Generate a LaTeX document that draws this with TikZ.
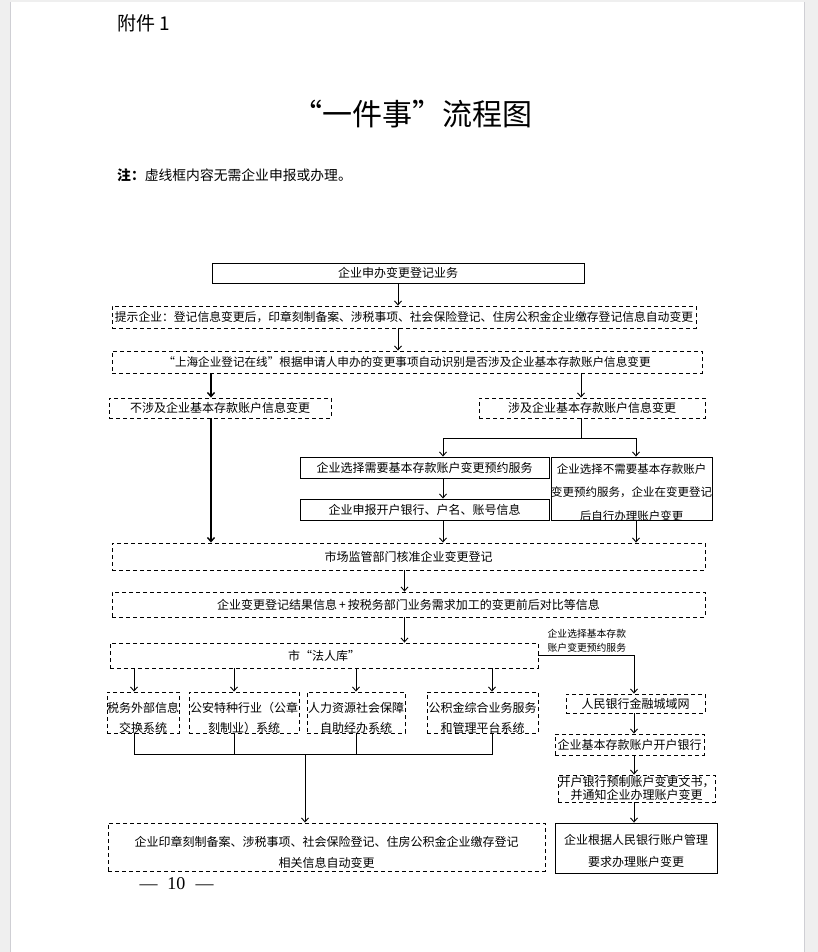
\documentclass[tikz,border=0pt]{standalone}
\usepackage{fontspec}
\setmainfont{Noto Sans CJK SC}
\newfontfamily\pagenumfont{Liberation Serif}
\usepackage{xcolor}
\definecolor{pageedge}{HTML}{EFEFEF}
\definecolor{pageline}{HTML}{CFCFD4}
\usetikzlibrary{arrows.meta, positioning, calc}
\tikzset{
  sbox/.style ={rectangle, draw=black, line width=0.9pt, fill=white, text=black, align=center,
                inner sep=0pt, font=\fontsize{12}{20}\selectfont},
  dbox/.style ={sbox, dash pattern=on 4pt off 3pt},
  farr/.style ={-{Straight Barb[length=4pt, width=7pt]}, line width=0.9pt},
  farrb/.style={farr, line width=1.4pt},
  fline/.style={line width=0.9pt},
  slbl/.style ={font=\fontsize{9.8}{14}\selectfont, align=left, inner sep=0pt},
}

\begin{document}
\begin{tikzpicture}[x=1pt, y=-1pt]
  \useasboundingbox (0,0) rectangle (818,952);
  % page
  \fill[pageedge] (0,0) rectangle (818,952);
  \fill[white] (10,2) rectangle (804,952);
  \draw[pageline, line width=1pt] (804.5,2) -- (804.5,952);
  \draw[pageline, line width=0.6pt] (10.3,2) -- (10.3,952);

  \node[font=\fontsize{19}{19}\selectfont, anchor=west, inner sep=0pt] (annex) at (117,23) {附件 1};
  \node[font=\fontsize{30}{30}\selectfont, inner sep=0pt] (title) at (412,114) {“一件事”流程图};
  \node[font=\fontsize{13.8}{14}\selectfont, anchor=west, inner sep=0pt] (note) at (117,175) {\textbf{注：}虚线框内容无需企业申报或办理。};
  \node[font=\pagenumfont\fontsize{18}{18}\selectfont, inner sep=0pt] (pageno) at (176.5,884) {—\hspace{10pt}10\hspace{10pt}—};

  % main column
  \node[sbox, minimum width=372pt, minimum height=20pt] (apply) at (398,273) {企业申办变更登记业务};
  \node[dbox, minimum width=584pt, minimum height=22pt, font=\fontsize{11.8}{20}\selectfont] (hint) at (404,317)
       {提示企业：登记信息变更后，印章刻制备案、涉税事项、社会保险登记、住房公积金企业缴存登记信息自动变更};
  \node[dbox, minimum width=590pt, minimum height=22pt, font=\fontsize{11.6}{20}\selectfont] (detect) at (407,362)
       {“上海企业登记在线”根据申请人申办的变更事项自动识别是否涉及企业基本存款账户信息变更};
  \node[dbox, minimum width=222pt, minimum height=20pt] (noacct) at (220,408) {不涉及企业基本存款账户信息变更};
  \node[dbox, minimum width=226pt, minimum height=20pt] (acct) at (592,408) {涉及企业基本存款账户信息变更};
  \node[sbox, minimum width=249pt, minimum height=21pt] (needsvc) at (424.5,467.5) {企业选择需要基本存款账户变更预约服务};
  \node[sbox, minimum width=161pt, minimum height=63pt, font=\fontsize{11.5}{23.5}\selectfont,
        text height=63pt, text depth=0pt] (nosvc) at (631.5,488.5)
       {企业选择不需要基本存款账户\\变更预约服务，企业在变更登记\\后自行办理账户变更};
  \node[sbox, minimum width=249pt, minimum height=21pt] (report) at (424.5,509.5) {企业申报开户银行、户名、账号信息};
  \node[dbox, minimum width=593pt, minimum height=27pt] (approve) at (408.5,556.5) {市场监管部门核准企业变更登记};
  \node[dbox, minimum width=593pt, minimum height=25pt] (info) at (408.5,604.5)
       {企业变更登记结果信息\,+\,按税务部门业务需求加工的变更前后对比等信息};
  \node[dbox, minimum width=428pt, minimum height=25pt] (lib) at (324,655.5) {市“法人库”};

  % receiving systems
  \node[dbox, minimum width=72pt, minimum height=41pt, text height=40pt, text depth=0pt] (tax) at (143,712.5) {税务外部信息\\交换系统};
  \node[dbox, minimum width=110pt, minimum height=41pt, text height=40pt, text depth=0pt] (police) at (244,712.5) {公安特种行业（公章\\刻制业）系统};
  \node[dbox, minimum width=98pt, minimum height=41pt, text height=40pt, text depth=0pt] (hr) at (356,712.5) {人力资源社会保障\\自助经办系统};
  \node[dbox, minimum width=111pt, minimum height=41pt, text height=40pt, text depth=0pt] (fund) at (482.5,712.5) {公积金综合业务服务\\和管理平台系统};
  \node[dbox, minimum width=437pt, minimum height=48pt, font=\fontsize{12}{21}\selectfont,
        text height=41pt, text depth=0pt] (auto) at (326.5,847)
       {企业印章刻制备案、涉税事项、社会保险登记、住房公积金企业缴存登记\\相关信息自动变更};

  % bank column
  \node[dbox, minimum width=139pt, minimum height=19pt] (pbnet) at (635.5,703.5) {人民银行金融城域网};
  \node[dbox, minimum width=149pt, minimum height=21pt] (bank) at (629.5,744.5) {企业基本存款账户开户银行};
  \node[dbox, minimum width=157pt, minimum height=27pt, font=\fontsize{12}{13}\selectfont,
        text height=22pt, text depth=0pt] (notice) at (636.5,788.5) {开户银行预制账户变更文书，\\并通知企业办理账户变更};
  \node[sbox, minimum width=162pt, minimum height=50pt, font=\fontsize{12}{22}\selectfont,
        text height=37pt, text depth=0pt] (manage) at (636,848) {企业根据人民银行账户管理\\要求办理账户变更};
  \node[slbl, anchor=south west, above right=3pt and 9pt of lib.east] (svclbl) {企业选择基本存款\\账户变更预约服务};

  % connectors
  \coordinate (noin) at ($(noacct.north)+(-9,0)$);
  \coordinate (yesin) at ($(acct.north)+(-11,0)$);
  \coordinate (split) at ($(acct.south)+(-11,20)$);
  \coordinate (needin) at ($(needsvc.north)+(18.5,0)$);
  \coordinate (nosvcin) at ($(nosvc.north)+(4.5,0)$);
  \coordinate (mid) at ($(approve.south)+(-4,0)$);
  \coordinate (merge) at ($(auto.north)+(-21.5,-68)$);
  \coordinate (bankx) at ($(pbnet.north)+(-1.5,0)$);

  \draw[farr] (apply.south) -- (apply.south |- hint.north);
  \draw[farr] (apply.south |- hint.south) -- (apply.south |- detect.north);
  \draw[farrb] (noin |- detect.south) -- (noin);
  \draw[farr] (yesin |- detect.south) -- (yesin);
  \draw[fline] (yesin |- acct.south) -- (split);
  \draw[farr] (split) -| (needin);
  \draw[farr] (split) -| (nosvcin);
  \draw[farr] (needin |- needsvc.south) -- (needin |- report.north);
  \draw[farrb] (noin |- noacct.south) -- (noin |- approve.north);
  \draw[farr] (needin |- report.south) -- (needin |- approve.north);
  \draw[farr] (nosvcin |- nosvc.south) -- (nosvcin |- approve.north);
  \draw[farr] (mid) -- (mid |- info.north);
  \draw[farr] (mid |- info.south) -- (mid |- lib.north);
  \foreach \b/\dx in {tax/-9, police/-10, hr/0, fund/9.5} {
    \coordinate (\b-in) at ($(\b.north)+(\dx,0)$);
    \draw[farr] (\b-in |- lib.south) -- (\b-in);
    \draw[fline] (\b-in |- \b.south) -- (\b-in |- merge);
  }
  \draw[fline] (tax-in |- merge) -- (fund-in |- merge);
  \draw[farr] (merge) -- (merge |- auto.north);
  \draw[farr] (lib.east) -| (bankx);
  \draw[farr] (bankx |- pbnet.south) -- (bankx |- bank.north);
  \draw[farr] (bankx |- bank.south) -- (bankx |- notice.north);
  \draw[farr] (bankx |- notice.south) -- (bankx |- manage.north);
\end{tikzpicture}
\end{document}
